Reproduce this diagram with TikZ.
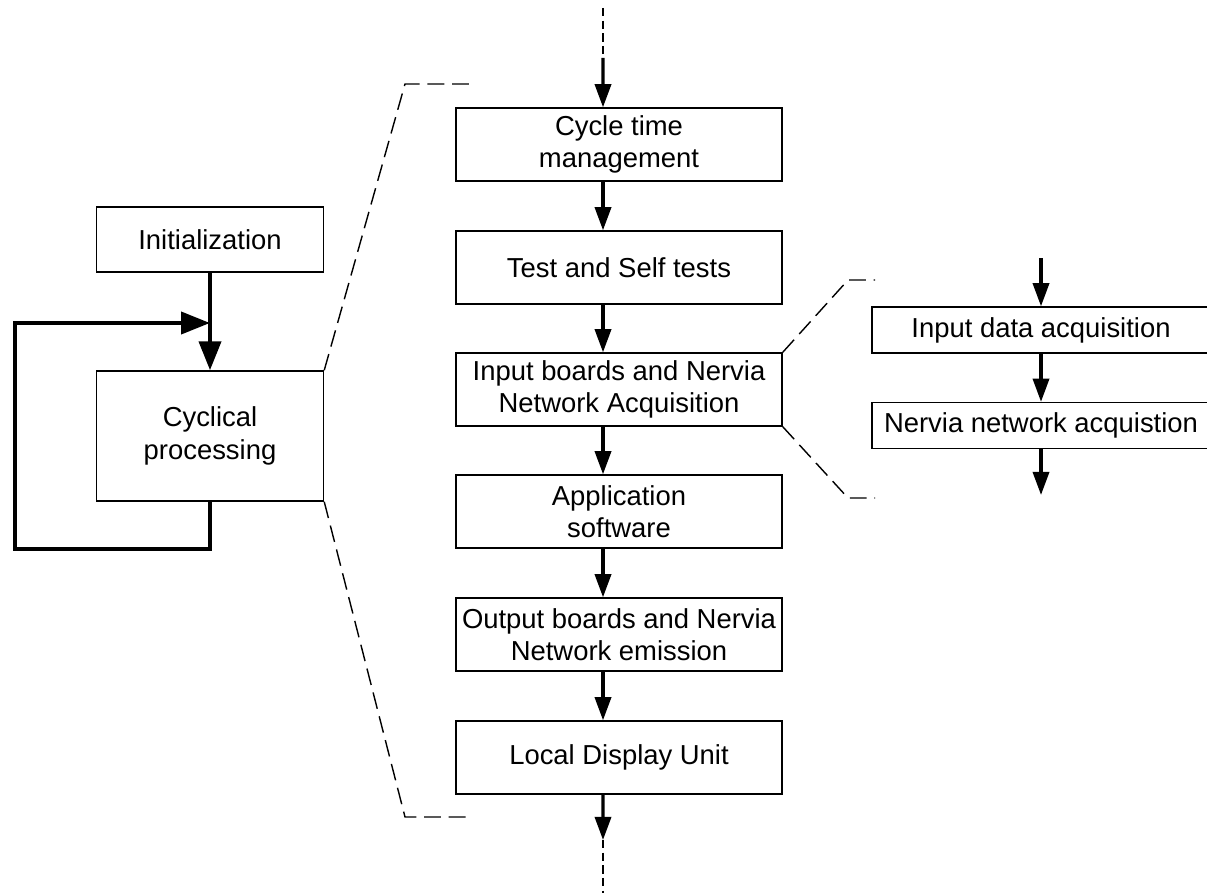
\documentclass[tikz,border=0pt]{standalone}
\usepackage{fontspec}
\setmainfont{Liberation Sans}
\usetikzlibrary{arrows.meta}

\begin{document}
\begin{tikzpicture}[x=0.025cm, y=-0.025cm,
            box/.style={draw,line width=1pt,inner sep=0pt,align=center,
                        font=\fontsize{19.5}{23}\selectfont},
            main box/.style={box,minimum width=8.15cm,minimum height=1.825cm},
            side box/.style={box,minimum width=5.675cm},
            sub box/.style={box,minimum width=8.45cm,minimum height=1.15cm},
            flow/.style={line width=2.3pt,-{Triangle[length=16.5pt,width=11.5pt]}},
            loop/.style={line width=3pt,-{Triangle[length=20.5pt,width=15.5pt]}},
            zoom/.style={line width=1pt,dash pattern=on 12pt off 5.5pt},
            feed/.style={line width=1.3pt,dash pattern=on 6pt off 3pt},
            ]

            \useasboundingbox (0,0) rectangle (1207,893);

            % left part
            \node[side box, minimum height=1.625cm] (init) at (210,239.5) {Initialization};
            \node[side box, minimum height=3.25cm] (cyc) at (210,436) {Cyclical\\processing};

            \coordinate (lb) at (210,549);
            \coordinate (lbl) at (15,549);
            \coordinate (ltl) at (15,323);
            \coordinate (lj) at (210,323);

            \draw[loop] (init.south) -- (cyc.north);
            \draw[loop] (cyc.south) -- (lb) -- (lbl) -- (ltl) -- (lj);

            % main column
            \node[main box] (cycle) at (619,144.5) {Cycle time\\management};
            \node[main box] (test) at (619,267.5) {Test and Self tests};
            \node[main box] (inb) at (619,389.5) {Input boards and Nervia\\Network Acquisition};
            \node[main box] (app) at (619,511.5) {Application\\software};
            \node[main box] (outb) at (619,634.5) {Output boards and Nervia\\Network emission};
            \node[main box] (ldu) at (619,757.5) {Local Display Unit};

            \coordinate (topin) at (603,8);
            \coordinate (topmid) at (603,58);
            \coordinate (botmid) at (603,840);
            \coordinate (botout) at (603,893);

            \draw[feed] (topin) -- (topmid);
            \draw[flow] (topmid) -- ([xshift=-0.4cm]cycle.north);
            \draw[flow] ([xshift=-0.4cm]cycle.south) -- ([xshift=-0.4cm]test.north);
            \draw[flow] ([xshift=-0.4cm]test.south) -- ([xshift=-0.4cm]inb.north);
            \draw[flow] ([xshift=-0.4cm]inb.south) -- ([xshift=-0.4cm]app.north);
            \draw[flow] ([xshift=-0.4cm]app.south) -- ([xshift=-0.4cm]outb.north);
            \draw[flow] ([xshift=-0.4cm]outb.south) -- ([xshift=-0.4cm]ldu.north);
            \draw[flow] ([xshift=-0.4cm]ldu.south) -- (botmid);
            \draw[feed] (botmid) -- (botout);

            % zoom from cyclical processing
            \coordinate (zt1) at (405,84);
            \coordinate (zt2) at (471,84);
            \coordinate (zb1) at (405,817);
            \coordinate (zb2) at (471,817);
            \draw[zoom] (cyc.north east) -- (zt1) -- (zt2);
            \draw[zoom] (cyc.south east) -- (zb1) -- (zb2);

            % right part
            \node[sub box] (ida) at (1041,330) {Input data acquisition};
            \node[sub box] (nna) at (1041,425.5) {Nervia network acquistion};

            \coordinate (rin) at (1041,258);
            \coordinate (rout) at (1041,495);

            \draw[flow] (rin) -- (ida.north);
            \draw[flow] (ida.south) -- (nna.north);
            \draw[flow] (nna.south) -- (rout);

            % zoom from input boards
            \coordinate (rt1) at (848,280);
            \coordinate (rt2) at (875,280);
            \coordinate (rb1) at (848,498);
            \coordinate (rb2) at (875,498);
            \draw[zoom] (inb.north east) -- (rt1) -- (rt2);
            \draw[zoom] (inb.south east) -- (rb1) -- (rb2);
        \end{tikzpicture}
\end{document}
